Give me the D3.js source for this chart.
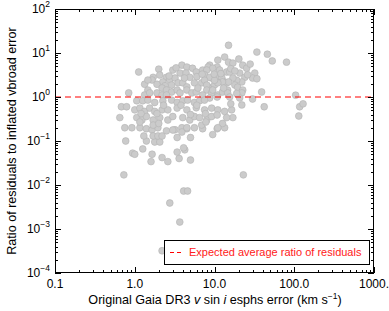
<!DOCTYPE html>
<html><head><meta charset="utf-8">
<script src="https://cdn.jsdelivr.net/npm/d3@7"></script>
<style>body{margin:0;background:#fff}svg{display:block}text{font-family:"Liberation Sans",Arial,sans-serif}</style>
</head><body>
<svg id="c" width="389" height="311"></svg>
<script>
const xVals = [15.0,34,46,53,80,2.0,3.9,4.5,5.3,8.7,10.8,13.4,11.0,20.2,22.6,25.3,15.0,17,8.3,9.5,7.1,
1.12,3.0,3.7,4.4,8.0,11.6,14.2,2.5,2.75,3.2,1.7,1.65,2.25,2.9,3.5,4.9,5.6,4.0,4.5,7.5,9.2,11,12.6,14.2,6.9,8.3,10,32,30,34,20.7,24,22,19,15.5,17,15,12.3,12.6,11,8.7,10,7.5,8.0,2.06,1.33,1.46,1.9,4.2,5.9,2.4,18,
2.2,2.5,2.9,3.4,3.7,1.46,1.33,1.54,1.9,2.2,2.5,4.5,5.2,5.9,8.0,9.2,11,12.6,14.6,0.84,19.5,22.6,22,20.7,39,14.6,15.5,9.5,10.8,8.7,7.1,104,30,
1.06,1.26,1.46,1.78,2.25,2.9,3.4,4.0,4.6,5.6,6.5,7.5,0.68,0.79,1.0,1.16,1.33,1.54,1.78,2.2,2.6,3.4,4.5,5.9,7.5,9.2,11,13.4,117,129,114,42,22,16.4,17,0.65,
1.06,1.23,1.4,1.7,2.06,2.6,3.0,4.0,4.9,5.6,6.5,8.0,9.2,10.8,14.2,0.75,0.92,1.16,1.4,1.65,1.95,2.5,3.2,3.9,4.5,5.6,7.1,10.8,13.4,12.6,6.9,11,7.8,1.7,1.16,
0.77,0.94,1.0,1.26,1.65,1.6,2.2,2.6,3.4,4.24,3.6,5.0,1.4,1.78,2.06,1.3,1.7,1.95,2.2,3.0,3.9,4.5,5.0,3.4,4.1,9.5,
0.73,23,4.1,4.6,2.75,3.67,2.2,
2.7,3.3,6.0,7.0,12,16,18,26,28,6.2,9.9,13,19,3.8,5.0,2.3,1.9,16,6.0,2.0,1.2,7.7];
const yVals = [15,10.5,9.4,6.6,6.2,4.3,5.3,4.8,4.5,5.3,4.8,8.1,6.9,7.3,5.3,4.5,6.2,5.9,4.8,4.5,4.1,
3.7,4.1,3.5,3.5,4.1,4.1,3.7,2.8,2.43,2.7,2.8,2.43,2.2,1.87,2.1,2.8,2.1,2.1,1.7,3.2,2.7,2.8,2.4,2.1,2.1,1.7,1.87,3.5,2.7,2.6,3.5,2.8,2.2,2.4,3.7,2.7,2.2,2.8,2.2,2.1,2.8,2.4,2.4,1.87,3.16,1.95,2.43,1.95,2.7,3.7,1.8,1.87,
1.6,1.44,1.3,1.44,1.24,1.44,1.11,1.24,1.24,1.11,1.11,1.44,1.24,1.3,1.44,1.24,1.11,1.3,1.44,1.24,1.67,1.44,1.24,0.95,1.3,1.24,1.0,1.44,1.0,0.95,1.11,1.1,0.9,
0.82,0.82,0.85,0.75,0.82,0.85,0.75,0.82,0.85,0.75,0.82,0.85,0.6,0.6,0.51,0.56,0.47,0.56,0.47,0.51,0.51,0.56,0.51,0.57,0.51,0.56,0.51,0.47,0.6,0.7,0.37,0.6,0.66,0.51,0.34,0.34,
0.34,0.3,0.36,0.3,0.34,0.3,0.36,0.34,0.3,0.36,0.34,0.3,0.36,0.39,0.34,0.2,0.2,0.2,0.19,0.18,0.2,0.17,0.18,0.2,0.19,0.2,0.19,0.19,0.2,0.25,0.23,0.2,0.27,0.23,0.27,
0.1,0.053,0.05,0.066,0.05,0.034,0.042,0.034,0.056,0.063,0.04,0.037,0.1,0.095,0.095,0.13,0.13,0.13,0.13,0.178,0.16,0.2,0.12,0.12,0.07,0.14,
0.017,0.017,0.0073,0.0073,0.0039,0.00144,0.00032,
3.0,4.6,2.9,3.3,3.4,4.4,3.9,3.2,5.6,1.6,3.3,1.6,1.2,0.65,0.4,0.65,0.42,0.7,0.65,0.25,0.42,0.42];
const xTicks = [0.1,1,10,100,1000];
const xTickLabels = ["0.1","1.0","10.0","100.0","1000."];
const yTicks = [1e-4,1e-3,1e-2,1e-1,1,10,100];
const yTickExps = ["\u22124","\u22123","\u22122","\u22121","0","1","2"];
const refValue = 1;
const legendLabel = "Expected average ratio of residuals";

const svg = d3.select("#c");
const L=55,R=374,T=9,B=273;
const x = d3.scaleLog().domain([0.1,1000]).range([L,R]);
const y = d3.scaleLog().domain([1e-4,100]).range([B,T]);

const pts = xVals.map((v,i)=>({x:v,y:yVals[i]}));
svg.append("g").selectAll("circle").data(pts).join("circle")
  .attr("cx",d=>x(d.x)).attr("cy",d=>y(d.y)).attr("r",3.4)
  .attr("fill","#cbcbcb").attr("stroke","#b4b4b4").attr("stroke-width",0.6);

svg.append("line").attr("x1",L).attr("x2",R).attr("y1",y(refValue)).attr("y2",y(refValue))
  .attr("stroke","#ff0000").attr("stroke-width",1.1).attr("stroke-dasharray","6,4");

function minors(dom){const out=[];for(let e=Math.log10(dom[0]);e<Math.log10(dom[1]);e++){for(let k=2;k<=9;k++)out.push(k*Math.pow(10,e));}return out;}
const g = svg.append("g").attr("stroke","#000").attr("stroke-width",1);
xTicks.forEach(t=>{const px=Math.round(x(t))+0.5;g.append("line").attr("x1",px).attr("x2",px).attr("y1",B).attr("y2",B-6);g.append("line").attr("x1",px).attr("x2",px).attr("y1",T).attr("y2",T+6);});
minors(x.domain()).forEach(t=>{const px=Math.round(x(t))+0.5;g.append("line").attr("x1",px).attr("x2",px).attr("y1",B).attr("y2",B-3);g.append("line").attr("x1",px).attr("x2",px).attr("y1",T).attr("y2",T+3);});
yTicks.forEach(t=>{const py=Math.round(y(t))+0.5;g.append("line").attr("x1",L).attr("x2",L+6).attr("y1",py).attr("y2",py);g.append("line").attr("x1",R).attr("x2",R-6).attr("y1",py).attr("y2",py);});
minors(y.domain()).forEach(t=>{const py=Math.round(y(t))+0.5;g.append("line").attr("x1",L).attr("x2",L+3).attr("y1",py).attr("y2",py);g.append("line").attr("x1",R).attr("x2",R-3).attr("y1",py).attr("y2",py);});

svg.append("rect").attr("x",L+0.5).attr("y",T+0.5).attr("width",R-L-1).attr("height",B-T-1)
  .attr("fill","none").attr("stroke","#000").attr("stroke-width",1);

svg.append("g").selectAll("text").data(xTicks).join("text")
  .attr("x",d=>x(d)).attr("y",B+15).attr("text-anchor","middle").attr("font-size",12).attr("fill","#000")
  .text((d,i)=>xTickLabels[i]);
const yl = svg.append("g").selectAll("text").data(yTicks).join("text")
  .attr("x",L-5).attr("y",d=>y(d)+4).attr("text-anchor","end").attr("font-size",12).attr("fill","#000");
yl.append("tspan").text("10");
yl.append("tspan").attr("dy",-6).attr("font-size",8.5).text((d,i)=>yTickExps[i]);

const xt = svg.append("text").attr("x",215).attr("y",304).attr("text-anchor","middle").attr("font-size",12.6).attr("fill","#000");
xt.append("tspan").text("Original Gaia DR3 ");
xt.append("tspan").attr("font-style","italic").text("v");
xt.append("tspan").text(" sin ");
xt.append("tspan").attr("font-style","italic").text("i");
xt.append("tspan").text(" esphs error (km s");
xt.append("tspan").attr("dy",-5).attr("font-size",8.5).text("\u22121");
xt.append("tspan").attr("dy",5).text(")");
svg.append("text").attr("transform",`translate(16,${(T+B)/2}) rotate(-90)`).attr("text-anchor","middle")
  .attr("font-size",12.6).attr("fill","#000").text("Ratio of residuals to inflated vbroad error");

svg.append("rect").attr("x",164.5).attr("y",240.5).attr("width",205).attr("height",24)
  .attr("fill","#fff").attr("stroke","#000").attr("stroke-width",1);
svg.append("line").attr("x1",170).attr("x2",184).attr("y1",252.5).attr("y2",252.5)
  .attr("stroke","#ff0000").attr("stroke-width",1.1).attr("stroke-dasharray","4,3");
svg.append("text").attr("x",189).attr("y",256).attr("font-size",11).attr("fill","#ff2020").text(legendLabel);
</script>
</body></html>
